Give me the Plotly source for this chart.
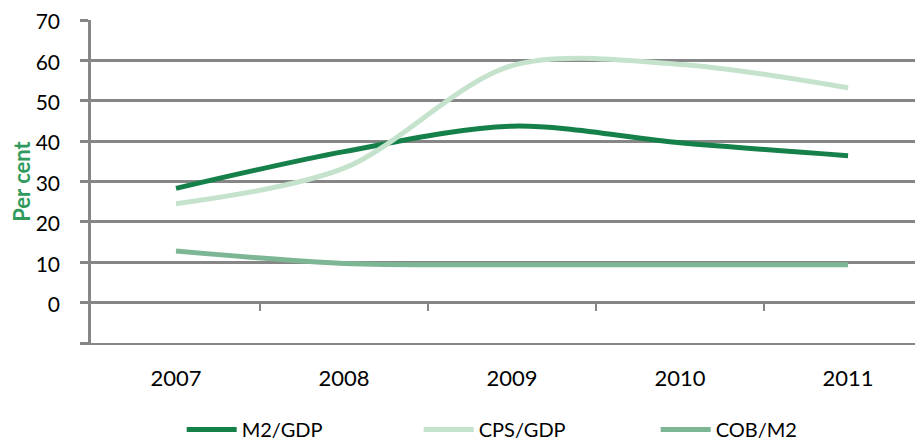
import plotly.graph_objects as go

years = ["2007", "2008", "2009", "2010", "2011"]
m2_gdp = [28.3, 37.4, 43.7, 39.6, 36.4]
cps_gdp = [24.5, 33.3, 58.7, 59.0, 53.2]
cob_m2 = [12.8, 9.7, 9.4, 9.4, 9.4]

y_ticks = [-10, 0, 10, 20, 30, 40, 50, 60, 70]
y_ticktext = ["" if v < 0 else str(v) for v in y_ticks]

series = [
    ("M2/GDP", m2_gdp, "#16804a"),
    ("CPS/GDP", cps_gdp, "#c4e2cc"),
    ("COB/M2", cob_m2, "#7db694"),
]

xpos = list(range(len(years)))
grid = "#868686"
font = "Lato"

fig = go.Figure()
for name, vals, col in series:
    fig.add_trace(go.Scatter(
        x=xpos, y=vals, name=name, mode="lines",
        line=dict(color=col, width=5, shape="spline", smoothing=0.9),
    ))

# invisible helper trace for category-boundary tick axis
fig.add_trace(go.Scatter(x=xpos, y=m2_gdp, xaxis="x2", mode="lines",
                         line=dict(width=0), opacity=0, showlegend=False,
                         hoverinfo="skip"))

xr = [-0.506, 4.446]
fig.update_layout(
    width=915, height=433,
    margin=dict(l=83, r=0, t=12, b=98, autoexpand=False),
    paper_bgcolor="white", plot_bgcolor="white",
    font=dict(family=font, size=22, color="black"),
    xaxis=dict(
        range=xr, tickvals=xpos, ticktext=years, showgrid=False,
        zeroline=False, showline=True, linecolor=grid, linewidth=2,
        ticks="", ticklabelstandoff=15, tickfont=dict(size=22),
    ),
    xaxis2=dict(
        range=xr, overlaying="x", anchor="free", position=0.125, side="bottom",
        tickvals=[i + 0.5 for i in xpos[:-1]], ticks="outside", ticklen=7,
        tickwidth=2, tickcolor=grid, showticklabels=False, showgrid=False,
        zeroline=False, showline=False,
    ),
    yaxis=dict(
        range=[-10, 70], tickvals=y_ticks, ticktext=y_ticktext,
        showgrid=True, gridcolor=grid, gridwidth=2.5, zeroline=False,
        showline=True, linecolor=grid, linewidth=2.5,
        ticks="outside", ticklen=8, tickwidth=2.5, tickcolor=grid,
        ticklabelstandoff=16, ticklabelshift=2, tickfont=dict(size=21),
        ticklabeloverflow="allow",
        title=dict(text="<b>Per cent</b>", font=dict(size=22, color="#2e9a5c"),
                   standoff=9),
    ),
    legend=dict(
        orientation="h", x=0.109, y=-0.268, xanchor="left", yanchor="middle",
        entrywidth=172, entrywidthmode="pixels", itemwidth=50,
        font=dict(size=20), bgcolor="rgba(0,0,0,0)",
    ),
    showlegend=True,
)

fig.write_html("out.html")
